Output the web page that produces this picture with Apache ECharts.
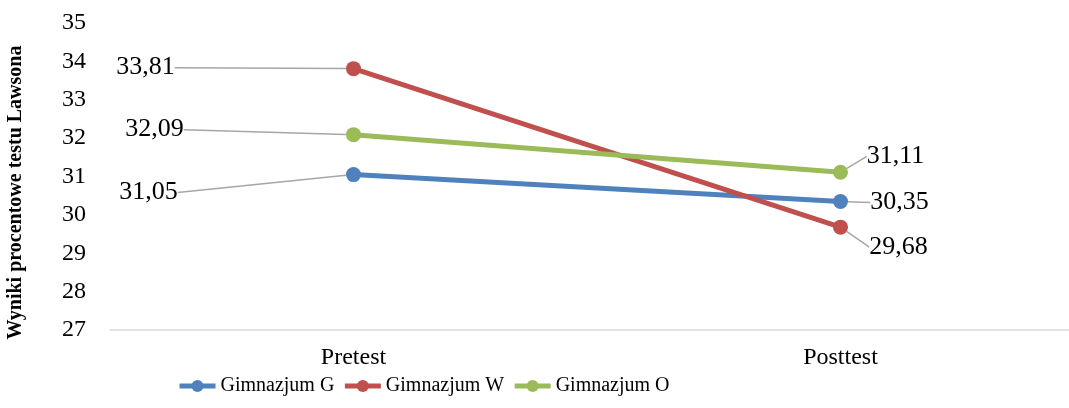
<!DOCTYPE html>
<html>
<head>
<meta charset="utf-8">
<script src="https://cdn.jsdelivr.net/npm/echarts@6/dist/echarts.min.js"></script>
<style>
  html, body { margin: 0; padding: 0; background: #fff; }
  #chart { width: 1069px; height: 408px; }
</style>
</head>
<body>
<div id="chart"></div>
<script>
// dane
var categories = ['Pretest', 'Posttest'];
var seriesNames = ['Gimnazjum G', 'Gimnazjum W', 'Gimnazjum O'];
var gimG = [31.05, 30.35];
var gimW = [33.81, 29.68];
var gimO = [32.09, 31.11];
var yTicks = { min: 27, max: 35, step: 1 };

var colors = ['#4F81BD', '#C0504D', '#9BBB59'];
// przesuniecie etykiet wzgledem punktu [dx, dy], osobno dla serii
var labelOffsets = [
    [[-205, 18], [59, 1]],
    [[-208, -1], [58, 20]],
    [[-199, -5], [55, -16]]
];

var chart = echarts.init(document.getElementById('chart'));
var font = 'Liberation Serif, Times New Roman, serif';

function makeSeries(idx, values) {
    return {
        name: seriesNames[idx],
        type: 'line',
        data: values,
        symbol: 'circle',
        symbolSize: 15,
        lineStyle: { width: 5, color: colors[idx] },
        itemStyle: { color: colors[idx] },
        label: {
            show: true,
            fontFamily: font,
            fontSize: 26,
            color: '#000',
            padding: [0, 8],
            formatter: function (p) {
                return p.value.toFixed(2).replace('.', ',');
            }
        },
        labelLine: {
            show: true,
            lineStyle: { color: '#a6a6a6', width: 1.5 }
        },
        labelLayout: function (params) {
            var off = labelOffsets[idx][params.dataIndex];
            return {
                x: params.rect.x + params.rect.width / 2 + off[0],
                y: params.rect.y + params.rect.height / 2 + off[1],
                align: 'center',
                verticalAlign: 'middle'
            };
        },
        animation: false
    };
}

var option = {
    animation: false,
    grid: { left: 110, top: 23, width: 974, height: 307, outerBoundsMode: 'none' },
    legend: {
        left: 177,
        top: 376,
        padding: 0,
        itemWidth: 36,
        itemHeight: 15,
        itemGap: 8,
        lineStyle: { width: 5 },
        textStyle: { fontFamily: font, fontSize: 20, color: '#000' },
        data: seriesNames
    },
    xAxis: {
        type: 'category',
        data: categories,
        axisLine: { lineStyle: { color: '#d9d9d9', width: 1.5 } },
        axisTick: { show: false },
        axisLabel: { fontFamily: font, fontSize: 24, color: '#000', margin: 16 }
    },
    yAxis: {
        type: 'value',
        min: yTicks.min,
        max: yTicks.max,
        interval: yTicks.step,
        name: 'Wyniki procentowe testu Lawsona',
        nameLocation: 'middle',
        nameGap: 84,
        nameTextStyle: {
            fontFamily: font, fontSize: 20, fontWeight: 'bold', color: '#000',
            padding: [0, 32, 0, 0]
        },
        axisLine: { show: false },
        axisTick: { show: false },
        splitLine: { show: false },
        axisLabel: { fontFamily: font, fontSize: 24, color: '#000', margin: 24 }
    },
    series: [
        makeSeries(0, gimG),
        makeSeries(1, gimW),
        makeSeries(2, gimO)
    ]
};

chart.setOption(option);
</script>
</body>
</html>
